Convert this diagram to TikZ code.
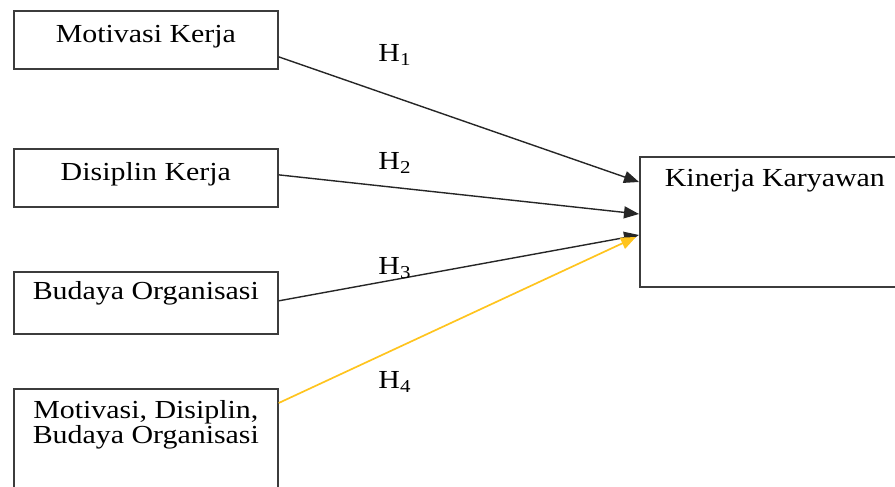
\documentclass[tikz,border=0pt]{standalone}
\usepackage{fontspec}
\setmainfont{Liberation Serif}[FakeStretch=1.15]
\usetikzlibrary{arrows.meta}
\definecolor{boxline}{RGB}{60,60,60}
\definecolor{hyellow}{RGB}{255,196,30}
\tikzset{
  varbox/.style={draw=boxline, line width=0.85pt, fill=white, inner xsep=0pt, inner ysep=0pt,
    minimum width=132pt, anchor=north west, align=center, font=\fontsize{13}{12.5}\selectfont},
  link/.style={draw=black!85, line width=0.7pt, -{Triangle[length=7.5pt,width=6pt]}},
  ylink/.style={draw=hyellow, line width=0.85pt, -{Triangle[length=7.5pt,width=6pt]}},
  hlab/.style={font=\fontsize{13}{15}\selectfont, inner sep=0pt}
}
\begin{document}
\begin{tikzpicture}[x=0.5pt,y=-0.5pt]
\useasboundingbox (0,0) rectangle (895,487);
\node[varbox, text height=16pt, text depth=13pt] (m1) at (13,10) {Motivasi Kerja};
\node[varbox, text height=16pt, text depth=13pt] (m2) at (13,148) {Disiplin Kerja};
\node[varbox, text height=14pt, text depth=17pt] (m3) at (13,271) {Budaya Organisasi};
\node[varbox, text height=27.5pt, text depth=38.5pt] (m4) at (13,388) {Motivasi, Disiplin,\\Budaya Organisasi};
\node[varbox, minimum width=135pt, text height=15pt, text depth=50pt] (k) at (639,156) {Kinerja Karyawan};

\draw[link] ([yshift=-8.5pt]m1.east) -- ([yshift=-13pt]k.north west);
\draw[link] ([yshift=1.5pt]m2.east) -- ([yshift=-29pt]k.north west);
\draw[link] ([yshift=1pt]m3.east) -- ([yshift=-39.5pt]k.north west);
\draw[ylink] ([yshift=-7.5pt]m4.north east) -- ([xshift=-1.5pt,yshift=-40.5pt]k.north west);

\node[hlab] (h1) at (395,55) {H\textsubscript{1}};
\node[hlab] (h2) at (395,163) {H\textsubscript{2}};
\node[hlab] (h3) at (395,268) {H\textsubscript{3}};
\node[hlab] (h4) at (395,382) {H\textsubscript{4}};
\end{tikzpicture}
\end{document}
